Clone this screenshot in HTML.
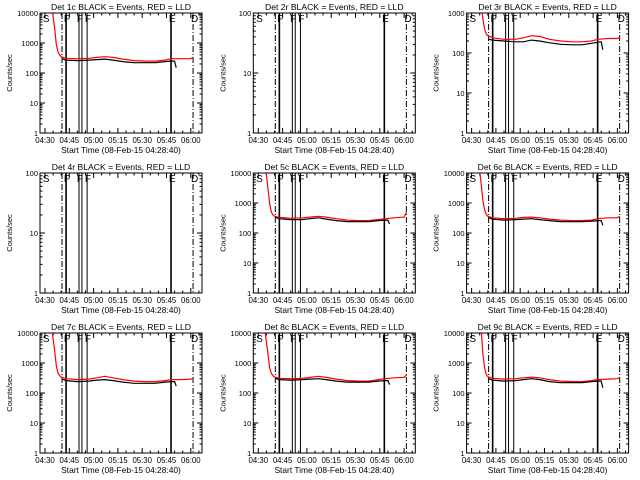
<!DOCTYPE html>
<html><head><meta charset="utf-8">
<style>
html,body{margin:0;padding:0;background:#fff;}
svg{display:block;font-family:"Liberation Sans",sans-serif;}
</style></head>
<body>
<svg id="chart" width="640" height="480" viewBox="0 0 640 480" xmlns="http://www.w3.org/2000/svg"></svg>
<script>
// ---- data ----
const xTickLabels = ["04:30","04:45","05:00","05:15","05:30","05:45","06:00"];
const xTickMinutes = [0,15,30,45,60,75,90];
const panelTitles = ["Det 1c BLACK = Events, RED = LLD","Det 2r BLACK = Events, RED = LLD","Det 3r BLACK = Events, RED = LLD",
  "Det 4r BLACK = Events, RED = LLD","Det 5c BLACK = Events, RED = LLD","Det 6c BLACK = Events, RED = LLD",
  "Det 7c BLACK = Events, RED = LLD","Det 8c BLACK = Events, RED = LLD","Det 9c BLACK = Events, RED = LLD"];
const yMaxDecade = [4,2,3,2,4,4,4,4,4];
const redTimes = [3,4.5,6,7,8,9,10,13,20,27,32,37,42,48,55,62,68,74,78,84,90,91.5];
const blackTimes = [10.5,13,20,27,32,37,42,48,55,62,68,74,78,80,81];
const redP1 = [30000,12000,3000,900,500,400,350,310,300,310,330,350,330,290,260,250,250,270,300,300,300,340];
const blackP1 = [300,270,260,270,280,290,270,240,220,220,220,240,250,250,150];
const redP3 = [5000,3000,1500,700,400,300,270,240,220,220,240,270,260,220,200,190,190,200,220,230,230,250];
const blackP3 = [220,210,200,190,190,210,200,180,165,160,160,175,185,190,120];
const redP5 = [30000,15000,3000,1000,500,400,360,330,310,320,340,360,340,300,270,260,260,280,300,320,340,500];
const blackP5 = [330,300,280,280,300,320,290,260,240,240,240,260,270,270,200];
const redP6 = [30000,20000,4000,1200,600,420,360,320,300,310,330,340,320,290,270,260,260,270,300,320,320,360];
const blackP6 = [320,290,270,280,290,300,280,260,240,240,240,250,260,260,180];
const redP7 = [30000,10000,2500,800,450,380,340,300,280,290,320,360,320,280,250,240,240,260,280,280,290,310];
const blackP7 = [290,260,240,250,270,280,260,230,210,210,210,230,240,240,170];
const redP8 = [30000,8000,2000,700,450,380,340,310,300,310,330,360,330,290,260,250,250,280,300,320,330,400];
const blackP8 = [310,280,270,280,290,300,280,250,230,230,230,250,260,260,190];
const redP9 = [30000,30000,12000,2000,700,420,350,310,290,300,320,340,320,280,250,240,240,260,280,290,300,330];
const blackP9 = [300,270,250,260,280,300,280,240,220,220,220,240,250,250,150];
const redSeries = [redP1,null,redP3,null,redP5,redP6,redP7,redP8,redP9];
const blackSeries = [blackP1,null,blackP3,null,blackP5,blackP6,blackP7,blackP8,blackP9];
const markerTimes = [10.5,13,21,22.8,26,77.8,91.4];
const markerStyles = ["dashdot","thick","solid","solid","solid","thick","dashdot"];
const markerLetters = ["S","F","F","F","E","D"];
// ---- drawing ----
const NS="http://www.w3.org/2000/svg";
const svg=document.getElementById('chart');
function el(tag,attrs,parent){const e=document.createElementNS(NS,tag);for(const k in attrs)e.setAttribute(k,attrs[k]);(parent||svg).appendChild(e);return e;}
const W=162,H=120;
for(let p=0;p<9;p++){
  const col=p%3,row=Math.floor(p/3);
  const x0=40+col*213.3,y0=13+row*160;
  const g=el('g',{});
  
  
  const nd=yMaxDecade[p];
  const xs=t=>x0+5+t*1.62;
  const ys=v=>y0+H-Math.log10(v)/nd*H;
  const cid='clip'+p;
  const cp=el('clipPath',{id:cid},g);el('rect',{x:x0,y:y0,width:W,height:H},cp);
  const tt=el('text',{x:x0+W/2,y:y0-3,'text-anchor':'middle','font-size':'8.6'},g);
  tt.textContent=panelTitles[p];
  
  
  el('rect',{x:x0,y:y0,width:W,height:H,fill:'none',stroke:'#000','stroke-width':1},g);
  for(let d=0;d<=nd;d++){
    const y=ys(Math.pow(10,d));
    el('line',{x1:x0,x2:x0+5,y1:y,y2:y,stroke:'#000'},g);
    el('line',{x1:x0+W-5,x2:x0+W,y1:y,y2:y,stroke:'#000'},g);
    const lb=el('text',{x:x0-2,y:y+3,'text-anchor':'end','font-size':'7.5'},g);
    lb.textContent=String(Math.pow(10,d));
    
    
    if(d<nd)for(let m=2;m<10;m++){const ym=ys(m*Math.pow(10,d));
      el('line',{x1:x0,x2:x0+2.5,y1:ym,y2:ym,stroke:'#000'},g);
      el('line',{x1:x0+W-2.5,x2:x0+W,y1:ym,y2:ym,stroke:'#000'},g);}
  }
  for(let t=0;t<=95;t+=5){const x=xs(t);const L=(t%15==0)?5:2.5;
    el('line',{x1:x,x2:x,y1:y0+H,y2:y0+H-L,stroke:'#000'},g);
    el('line',{x1:x,x2:x,y1:y0,y2:y0+L,stroke:'#000'},g);}
  xTickMinutes.forEach((t,i)=>{const lb=el('text',{x:xs(t),y:y0+H+10,'text-anchor':'middle','font-size':'7.8'},g);
    lb.textContent=xTickLabels[i];
    
    });
  const xt=el('text',{x:x0+W/2,y:y0+H+20,'text-anchor':'middle','font-size':'8.4'},g);
  xt.textContent='Start Time (08-Feb-15 04:28:40)';
  
  
  const yt=el('text',{x:0,y:0,'text-anchor':'middle','font-size':'7.5',transform:`translate(${x0-28},${y0+H/2}) rotate(-90)`},g);
  yt.textContent='Counts/sec';
  
  
  markerTimes.forEach((t,i)=>{const x=xs(t);const st=markerStyles[i];
    const a={x1:x,x2:x,y1:y0,y2:y0+H,stroke:'#000','stroke-width':st=='thick'?1.6:1};
    if(st=='dashdot')a['stroke-dasharray']='6,2,1,2';
    const ln=el('line',a,g);
    
    });
  const letterT=[0.5,13.5,21.5,26.5,78.3,92];
  letterT.forEach((t,i)=>{const lt=el('text',{x:xs(t)-3,y:y0+9,'font-size':'10'},g);
    lt.textContent=markerLetters[i];
    
    });
  const r=redSeries[p],b=blackSeries[p];
  if(r){const pts=redTimes.map((t,i)=>xs(t).toFixed(1)+','+ys(r[i]).toFixed(1)).join(' ');
    const pl=el('polyline',{points:pts,fill:'none',stroke:'#f00','stroke-width':1.2,'clip-path':`url(#${cid})`},g);
    
    }
  if(b){const pts=blackTimes.map((t,i)=>xs(t).toFixed(1)+','+ys(b[i]).toFixed(1)).join(' ');
    const pl=el('polyline',{points:pts,fill:'none',stroke:'#000','stroke-width':1.2,'clip-path':`url(#${cid})`},g);
    
    }
}
</script>
</body></html>
